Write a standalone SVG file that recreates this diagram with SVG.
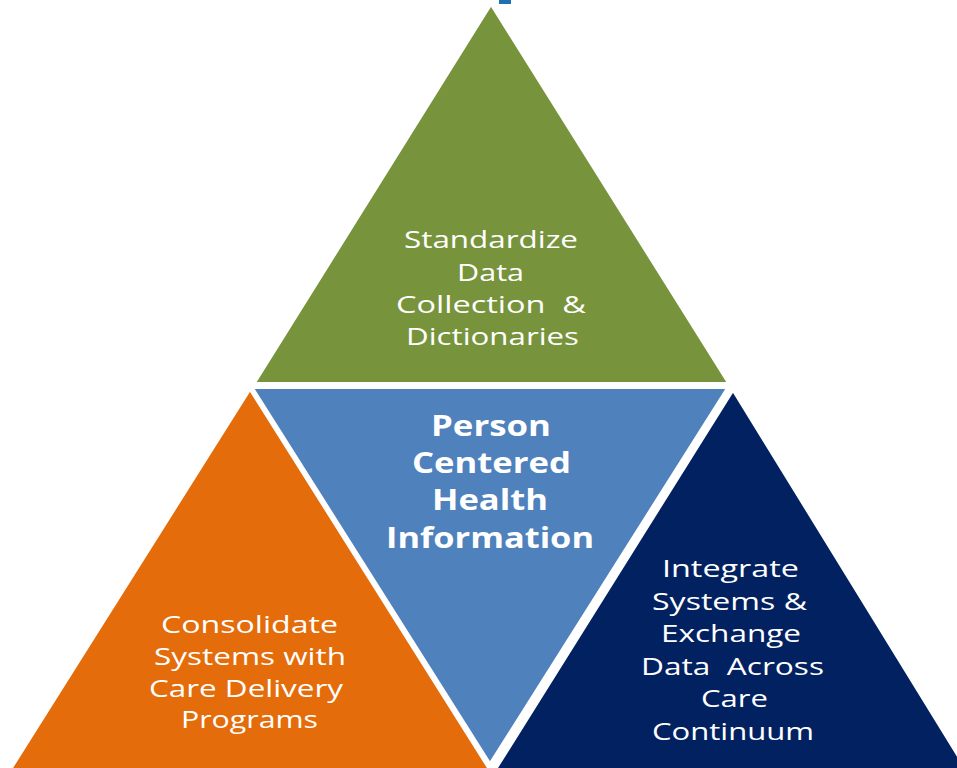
<svg xmlns="http://www.w3.org/2000/svg" width="957" height="768" viewBox="0 0 957 768">
<style>
.tri{stroke:#ffffff;stroke-width:2;stroke-linejoin:miter}
.t{font-family:"Open Sans","DejaVu Sans",sans-serif;font-size:24px;fill:#ffffff;white-space:pre}
.b{font-family:"Open Sans","DejaVu Sans",sans-serif;font-size:28.5px;font-weight:bold;fill:#ffffff;white-space:pre}
</style>
<rect x="0" y="0" width="957" height="768" fill="#ffffff"/>
<rect x="499" y="0" width="12" height="4" fill="#1f6fb5"/>
<g id="green">
<polygon class="tri" points="491,5 728,383 255,383" fill="#77933c"/>
<text class="t" x="404" y="248" textLength="174" lengthAdjust="spacingAndGlyphs">Standardize</text>
<text class="t" x="457" y="281" textLength="67" lengthAdjust="spacingAndGlyphs">Data</text>
<text class="t" x="396" y="313" textLength="190" lengthAdjust="spacingAndGlyphs">Collection  &amp;</text>
<text class="t" x="406" y="345" textLength="173" lengthAdjust="spacingAndGlyphs">Dictionaries</text>
</g>
<g id="blue">
<polygon class="tri" points="253,388 727,388 490,763" fill="#4f81bd"/>
<text class="b" x="431" y="436" textLength="120" lengthAdjust="spacingAndGlyphs">Person</text>
<text class="b" x="412" y="473" textLength="159" lengthAdjust="spacingAndGlyphs">Centered</text>
<text class="b" x="432" y="510" textLength="116" lengthAdjust="spacingAndGlyphs">Health</text>
<text class="b" x="386" y="548" textLength="208" lengthAdjust="spacingAndGlyphs">Information</text>
</g>
<g id="orange">
<polygon class="tri" points="250,390 490,771 10,771" fill="#e46c0a"/>
<text class="t" x="161" y="633" textLength="177" lengthAdjust="spacingAndGlyphs">Consolidate</text>
<text class="t" x="154" y="665" textLength="192" lengthAdjust="spacingAndGlyphs">Systems with</text>
<text class="t" x="149" y="697" textLength="194" lengthAdjust="spacingAndGlyphs">Care Delivery</text>
<text class="t" x="181" y="728" textLength="137" lengthAdjust="spacingAndGlyphs">Programs</text>
</g>
<g id="navy">
<polygon class="tri" points="733,391 967,771 495,771" fill="#022160"/>
<text class="t" x="662" y="577" textLength="137" lengthAdjust="spacingAndGlyphs">Integrate</text>
<text class="t" x="652" y="610" textLength="155" lengthAdjust="spacingAndGlyphs">Systems &amp;</text>
<text class="t" x="661" y="642" textLength="140" lengthAdjust="spacingAndGlyphs">Exchange</text>
<text class="t" x="641" y="675" textLength="183" lengthAdjust="spacingAndGlyphs">Data  Across</text>
<text class="t" x="701" y="707" textLength="67" lengthAdjust="spacingAndGlyphs">Care</text>
<text class="t" x="652" y="740" textLength="162" lengthAdjust="spacingAndGlyphs">Continuum</text>
</g>
<g id="connectors"></g>
</svg>
